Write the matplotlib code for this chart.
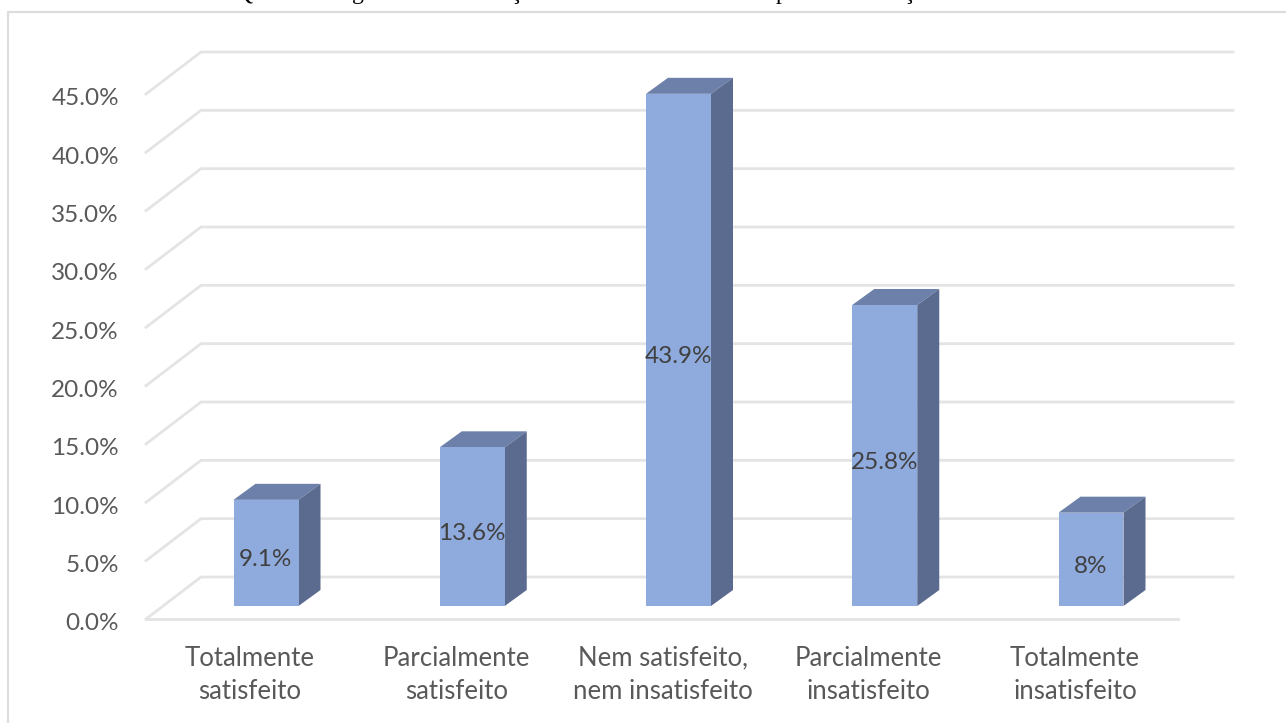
import matplotlib
matplotlib.use("Agg")
import matplotlib.pyplot as plt
from matplotlib.patches import Polygon

categories = ["Totalmente\nsatisfeito", "Parcialmente\nsatisfeito",
              "Nem satisfeito,\nnem insatisfeito", "Parcialmente\ninsatisfeito",
              "Totalmente\ninsatisfeito"]
values = [9.1, 13.6, 43.9, 25.8, 8]
axis_ticks = [0, 5, 10, 15, 20, 25, 30, 35, 40, 45]
caption_glyphs = ["Q", "g", "ç", "p", "ç"]

W, H = 1286, 723
X0, XSTEP = 266.0, 206.25    # pixel position of the first category, category spacing
Y0, YSCALE = 606.0, 11.667   # pixel position of 0 %, pixels per percentage point

FONT = "Lato"
GRID = "#E4E4E4"
FRONT, TOP, SIDE = "#8FAADC", "#6C80A9", "#5B6B8F"


def dx(px):
    return px / XSTEP


def dy(px):
    return px / YSCALE


fig = plt.figure(figsize=(W / 100, H / 100), dpi=100, facecolor="white")
ax = fig.add_axes([0, 0, 1, 1])
ax.set_xlim(-X0 / XSTEP, (W - X0) / XSTEP)
ax.set_ylim(-(H - Y0) / YSCALE, Y0 / YSCALE)
ax.axis("off")

# Chart frame: only the top and left edges fall inside the canvas
ax.plot([dx(8 - X0), dx(8 - X0), dx(W - X0)],
        [-(H - Y0) / YSCALE, dy(Y0 - 12.5), dy(Y0 - 12.5)],
        color="#DDDDDD", lw=1.6, zorder=1)

# Floor and wall gridlines
left_front, left_back = dx(146 - X0), dx(201 - X0)
right_front, right_back = dx(1178 - X0), dx(1233 - X0)
front_off, back_off = dy(-13), dy(29)
for t in axis_ticks:
    ax.plot([left_front, left_back, right_back],
            [t + front_off, t + back_off, t + back_off],
            color=GRID, lw=2.0, zorder=2, solid_joinstyle="miter")
    ax.text(dx(119 - X0), t + front_off - dy(5), f"{t:.1f}%", ha="right", va="center",
            family=FONT, fontsize=17.5, color="#595959", zorder=6)
ax.plot([left_front, right_front], [front_off, front_off], color=GRID, lw=2.0, zorder=2)

# Extruded bars: front face, top face and right side
half = dx(32.5)
depth_x, depth_y = dx(22), dy(16)
for i, v in enumerate(values):
    l, r = i - half, i + half
    ax.add_patch(Polygon([(l, v), (l + depth_x, v + depth_y), (r + depth_x, v + depth_y), (r, v)],
                         closed=True, fc=TOP, ec="none", zorder=4))
    ax.add_patch(Polygon([(r, 0), (r + depth_x, depth_y), (r + depth_x, v + depth_y), (r, v)],
                         closed=True, fc=SIDE, ec="none", zorder=4))
    ax.fill_between([l, r], 0, v, color=FRONT, lw=0, zorder=5)
    ax.text(i - dx(0.5), v / 2 - dy(7), f"{v:g}%", ha="center", va="center",
            family=FONT, fontsize=17.5, color="#404040", zorder=6)
    ax.text(i - dx(16), dy(Y0 - 675), categories[i], ha="center", va="center",
            family=FONT, fontsize=18.5, color="#595959", linespacing=1.42, zorder=6)

# Caption line above the chart, cut off by the top edge of the canvas
for glyph, px in zip(caption_glyphs, [236, 352, 510, 776, 903]):
    ax.text(dx(px - X0), dy(Y0 + 0.5), glyph, ha="left", va="baseline",
            family="Liberation Serif", fontsize=17, color="black", clip_on=True)

fig.savefig("out.png", dpi=100)
